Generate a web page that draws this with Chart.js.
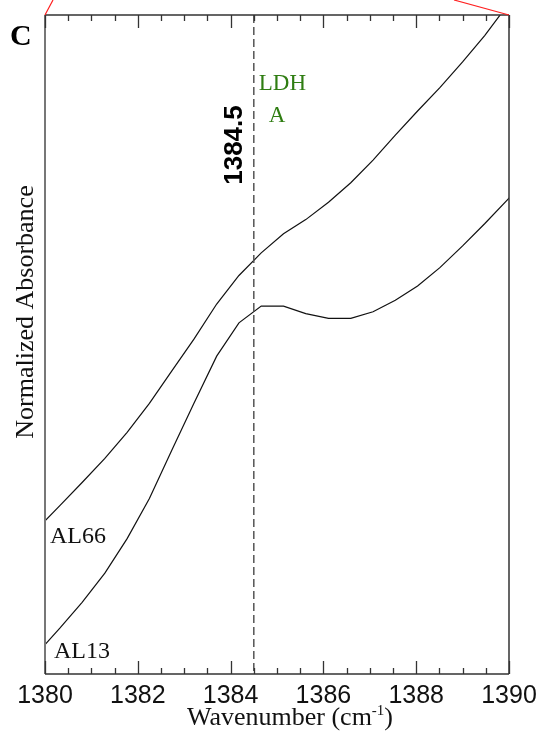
<!DOCTYPE html>
<html>
<head>
<meta charset="utf-8">
<title>Normalized absorbance near 1384.5 cm-1</title>
<script src="https://cdn.jsdelivr.net/npm/chart.js@4/dist/chart.umd.min.js"></script>
<style>
  html, body { margin: 0; padding: 0; background: #ffffff; }
  #wrap { width: 539px; height: 732px; position: relative; }
</style>
</head>
<body>
<div id="wrap"><canvas id="chart" width="539" height="732"></canvas></div>
<script>
// Spectral sampling points (cm-1)
const wavenumbers = [1379.84, 1380.32, 1380.80, 1381.29, 1381.77, 1382.25, 1382.73, 1383.21,
  1383.70, 1384.18, 1384.66, 1385.14, 1385.62, 1386.11, 1386.59, 1387.07, 1387.55, 1388.03,
  1388.51, 1389.00, 1389.48, 1389.96, 1390.44];

// Normalized absorbance, sample AL66
const al66 = [0.2206, 0.2556, 0.2906, 0.3271, 0.3667, 0.4108, 0.4595, 0.5081, 0.5614, 0.6047,
  0.6390, 0.6679, 0.6895, 0.7158, 0.7455, 0.7799, 0.8177, 0.8543, 0.8897, 0.9288, 0.9691,
  1.0143, 1.0604];

// Normalized absorbance, sample AL13
const al13 = [0.0321, 0.0695, 0.1088, 0.1530, 0.2054, 0.2662, 0.3393, 0.4108, 0.4823, 0.5329,
  0.5583, 0.5583, 0.5469, 0.5396, 0.5396, 0.5497, 0.5670, 0.5888, 0.6166, 0.6496, 0.6836,
  0.7192, 0.7546];

// Axis range and labelled ticks
const xRange = [1380, 1390];
const xTickLabels = [1380, 1382, 1384, 1386, 1388, 1390];
const minorStep = 0.5;

// Reference band position
const bandPosition = 1384.5;
const bandLabel = "1384.5";
const bandName = ["LDH", "A"];
const seriesNames = ["AL66", "AL13"];

const toPoints = (ys) => wavenumbers.map((x, i) => ({ x: x, y: ys[i] }));

const SERIF = "'Liberation Serif', 'Times New Roman', serif";
const SANS = "'Liberation Sans', Arial, sans-serif";

const decorations = {
  id: 'decorations',
  afterDatasetsDraw(chart) {
    const { ctx, chartArea: a, scales } = chart;
    const xs = scales.x;
    ctx.save();

    // dashed reference line
    const bx = xs.getPixelForValue(bandPosition);
    ctx.strokeStyle = '#555555';
    ctx.lineWidth = 1.5;
    ctx.setLineDash([8, 4]);
    ctx.beginPath();
    ctx.moveTo(bx, a.top);
    ctx.lineTo(bx, a.bottom);
    ctx.stroke();
    ctx.setLineDash([]);

    // frame
    ctx.lineWidth = 1.5;
    ctx.strokeStyle = '#333333';
    ctx.beginPath();
    ctx.moveTo(a.left, a.top); ctx.lineTo(a.right, a.top);
    ctx.moveTo(a.left, a.bottom); ctx.lineTo(a.right, a.bottom);
    ctx.moveTo(a.right, a.top); ctx.lineTo(a.right, a.bottom);
    ctx.stroke();
    ctx.strokeStyle = '#777777';
    ctx.lineWidth = 2;
    ctx.beginPath();
    ctx.moveTo(a.left, a.top); ctx.lineTo(a.left, a.bottom);
    ctx.stroke();

    // inward ticks on top and bottom edges
    ctx.strokeStyle = '#333333';
    ctx.lineWidth = 1.3;
    ctx.beginPath();
    for (let v = xRange[0]; v <= xRange[1] + 1e-9; v += minorStep) {
      const px = Math.round(xs.getPixelForValue(v)) + 0.5;
      const major = xTickLabels.includes(Math.round(v * 100) / 100);
      const len = major ? 13 : 6;
      ctx.moveTo(px, a.bottom); ctx.lineTo(px, a.bottom - len);
      ctx.moveTo(px, a.top); ctx.lineTo(px, a.top + len);
    }
    ctx.stroke();

    // zoom connector lines
    ctx.strokeStyle = '#ff2020';
    ctx.lineWidth = 1.2;
    ctx.beginPath();
    ctx.moveTo(a.left, a.top); ctx.lineTo(a.left + 8, 0);
    ctx.moveTo(a.right, a.top); ctx.lineTo(a.right - 55, 0);
    ctx.stroke();

    // panel letter
    ctx.fillStyle = '#000000';
    ctx.font = "bold 30px " + SERIF;
    ctx.textAlign = 'left';
    ctx.textBaseline = 'alphabetic';
    ctx.fillText('C', 10, 45);

    // band label, rotated
    ctx.save();
    ctx.translate(bx - 12, 145);
    ctx.rotate(-Math.PI / 2);
    ctx.font = "bold 26px " + SANS;
    ctx.textAlign = 'center';
    ctx.textBaseline = 'alphabetic';
    ctx.fillText(bandLabel, 0, 0);
    ctx.restore();

    // band assignment
    ctx.fillStyle = '#2f7d12';
    ctx.font = "23px " + SERIF;
    ctx.textAlign = 'left';
    ctx.fillText(bandName[0], bx + 5, 90);
    ctx.fillText(bandName[1], bx + 15, 122);

    // series names
    ctx.fillStyle = '#111111';
    ctx.font = "24px " + SERIF;
    ctx.fillText(seriesNames[0], a.left + 5, 543);
    ctx.fillText(seriesNames[1], a.left + 9, 658);

    // y title
    ctx.save();
    ctx.translate(33, 312);
    ctx.rotate(-Math.PI / 2);
    ctx.font = "26px " + SERIF;
    ctx.textAlign = 'center';
    ctx.fillText('Normalized Absorbance', 0, 0);
    ctx.restore();

    // x title with superscript
    const main = 'Wavenumber (cm';
    const sup = '-1';
    const close = ')';
    ctx.font = "26px " + SERIF;
    const w1 = ctx.measureText(main).width;
    const w3 = ctx.measureText(close).width;
    ctx.font = "15px " + SERIF;
    const w2 = ctx.measureText(sup).width;
    const total = w1 + w2 + w3;
    const sx = 290 - total / 2;
    const base = 725;
    ctx.textAlign = 'left';
    ctx.font = "26px " + SERIF;
    ctx.fillText(main, sx, base);
    ctx.font = "15px " + SERIF;
    ctx.fillText(sup, sx + w1, base - 10);
    ctx.font = "26px " + SERIF;
    ctx.fillText(close, sx + w1 + w2, base);

    ctx.restore();
  }
};

new Chart(document.getElementById('chart'), {
  type: 'line',
  data: {
    datasets: [
      { label: seriesNames[0], data: toPoints(al66), borderColor: '#111111', borderWidth: 1.2,
        pointRadius: 0, tension: 0, fill: false },
      { label: seriesNames[1], data: toPoints(al13), borderColor: '#111111', borderWidth: 1.2,
        pointRadius: 0, tension: 0, fill: false }
    ]
  },
  options: {
    responsive: false,
    animation: false,
    events: [],
    layout: { padding: { left: 45, right: 30, top: 15, bottom: 14 } },
    plugins: { legend: { display: false }, tooltip: { enabled: false }, title: { display: false } },
    scales: {
      x: {
        type: 'linear',
        min: xRange[0], max: xRange[1],
        afterBuildTicks: (scale) => { scale.ticks = xTickLabels.map(v => ({ value: v })); },
        afterFit: (scale) => { scale.paddingLeft = 0; scale.paddingRight = 0; },
        ticks: { color: '#111111', font: { family: SANS, size: 25 }, padding: 7, maxRotation: 0,
          autoSkip: false, callback: (v) => String(v) },
        grid: { display: false, drawTicks: false },
        border: { display: false }
      },
      y: {
        type: 'linear', min: 0, max: 1, display: false
      }
    }
  },
  plugins: [decorations]
});
</script>
</body>
</html>
